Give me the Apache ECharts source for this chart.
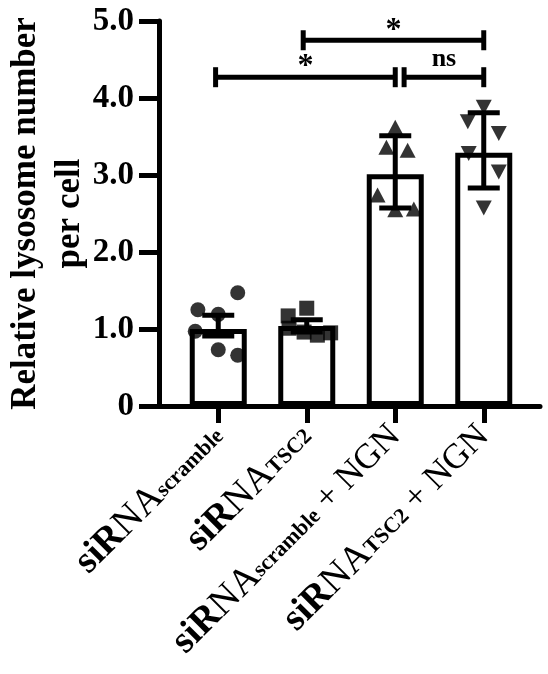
<!DOCTYPE html>
<html><head><meta charset="utf-8">
<script src="https://cdn.jsdelivr.net/npm/echarts@6/dist/echarts.min.js"></script>
<style>html,body{margin:0;padding:0;background:#fff}#c{width:548px;height:674px}</style>
</head><body><div id="c"></div>
<script>
// ---- data ----
const categories = ['siRNA scramble', 'siRNA TSC2', 'siRNA scramble + NGN', 'siRNA TSC2 + NGN'];
const labelSub = ['scramble', 'TSC2', 'scramble', 'TSC2'];
const labelSuffix = ['', '', ' + NGN', ' + NGN'];
const yTicks = ['0', '1.0', '2.0', '3.0', '4.0', '5.0'];
const barMeans = [1.00, 1.04, 3.01, 3.29];
const errLow = [0.91, 0.96, 2.57, 2.83];
const errHigh = [1.18, 1.12, 3.51, 3.81];
const pts1 = [1.47, 1.25, 1.19, 0.97, 0.73, 0.66];
const jit1 = [0.22, -0.23, 0.0, -0.26, 0.0, 0.22];
const pts2 = [1.27, 1.17, 1.01, 0.96, 0.92, 0.95];
const jit2 = [0.0, -0.21, -0.2, -0.03, 0.12, 0.27];
const pts3 = [3.62, 3.36, 3.32, 2.74, 2.55, 2.56];
const jit3 = [0.0, -0.1, 0.14, -0.2, 0.0, 0.21];
const pts4 = [3.88, 3.69, 3.54, 3.28, 3.04, 2.57];
const jit4 = [0.0, -0.18, 0.17, -0.17, 0.17, 0.0];
const bracketFrom = [-0.03, 2.1, 0.96];
const bracketTo = [2.0, 3.0, 3.0];
const bracketY = [4.27, 4.27, 4.75];
const bracketText = ['*', 'ns', '*'];

const FONT = '"Liberation Serif", "Times New Roman", serif';
function ptsData(pts, jit, idx) { return pts.map((v, i) => [idx + jit[i], v]); }

const chart = echarts.init(document.getElementById('c'), null, {renderer: 'canvas'});
const black = '#000';
chart.setOption({
  animation: false,
  backgroundColor: '#fff',
  grid: [
    {left: 159, right: 8, top: 21, bottom: 268, outerBoundsMode: 'none', containLabel: false},
    {left: 174, right: 20, top: 21, bottom: 268, outerBoundsMode: 'none', containLabel: false}
  ],
  xAxis: [
    {gridIndex: 0, type: 'value', min: 0, max: 1,
     axisLine: {show: true, lineStyle: {color: black, width: 5}},
     axisTick: {show: false}, axisLabel: {show: false}, splitLine: {show: false}},
    {gridIndex: 1, type: 'category', data: categories,
     axisLine: {show: false},
     axisTick: {show: true, alignWithLabel: true, length: 17, lineStyle: {color: black, width: 5}},
     axisLabel: {
       rotate: 45, margin: 25, color: black, interval: 0,
       formatter: (v, i) => '{b|siR}{n|NA}{s|' + labelSub[i] + '}' + (labelSuffix[i] ? '{p|' + labelSuffix[i] + '}' : ''),
       rich: {
         b: {fontFamily: FONT, fontWeight: 'bold', fontSize: 38, color: black},
         n: {fontFamily: FONT, fontWeight: 'normal', fontSize: 38, color: black},
         s: {fontFamily: FONT, fontWeight: 'bold', fontSize: 22, color: black, verticalAlign: 'bottom', padding: [0,0,5,0]},
         p: {fontFamily: FONT, fontWeight: 'normal', fontSize: 35, color: black}
       }
     }},
    {gridIndex: 1, type: 'value', min: -0.5, max: 3.5, show: false}
  ],
  yAxis: [
    {gridIndex: 0, type: 'value', min: 0, max: 5, interval: 1,
     axisLine: {show: true, lineStyle: {color: black, width: 5}},
     axisTick: {show: true, length: 20, lineStyle: {color: black, width: 5}},
     axisLabel: {margin: 25, color: black, fontFamily: FONT, fontWeight: 'bold', fontSize: 33,
                 formatter: v => yTicks[Math.round(v)]},
     splitLine: {show: false},
     name: 'Relative lysosome number\nper cell', nameLocation: 'middle', nameGap: 67,
     nameMoveOverlap: false,
     nameTextStyle: {fontFamily: FONT, fontWeight: 'bold', fontSize: 35, color: black, lineHeight: 44}},
    {gridIndex: 1, type: 'value', min: 0, max: 5, show: false}
  ],
  series: [
    {type: 'bar', xAxisIndex: 1, yAxisIndex: 1, data: barMeans, barWidth: 57,
     itemStyle: {color: '#fff', borderColor: black, borderWidth: 5}, z: 2},
    {type: 'scatter', xAxisIndex: 2, yAxisIndex: 1, symbol: 'circle', symbolSize: 15,
     data: ptsData(pts1, jit1, 0), itemStyle: {color: black}, z: 3},
    {type: 'scatter', xAxisIndex: 2, yAxisIndex: 1, symbol: 'rect', symbolSize: 15,
     data: ptsData(pts2, jit2, 1), itemStyle: {color: black}, z: 3},
    {type: 'scatter', xAxisIndex: 2, yAxisIndex: 1, symbol: 'triangle', symbolSize: [16, 15],
     data: ptsData(pts3, jit3, 2), itemStyle: {color: black}, z: 3},
    {type: 'scatter', xAxisIndex: 2, yAxisIndex: 1, symbol: 'triangle', symbolRotate: 180, symbolSize: [16, 15],
     data: ptsData(pts4, jit4, 3), itemStyle: {color: black}, z: 3},
    {type: 'custom', xAxisIndex: 2, yAxisIndex: 1, z: 4,
     data: barMeans.map((m, i) => [i, errLow[i], errHigh[i]]),
     renderItem: (params, api) => {
       const lo = api.coord([api.value(0), api.value(1)]);
       const hi = api.coord([api.value(0), api.value(2)]);
       const hw = 16;
       const st = {stroke: black, lineWidth: 5};
       return {type: 'group', children: [
         {type: 'line', shape: {x1: lo[0], y1: lo[1], x2: hi[0], y2: hi[1]}, style: st},
         {type: 'line', shape: {x1: lo[0] - hw, y1: lo[1], x2: lo[0] + hw, y2: lo[1]}, style: st},
         {type: 'line', shape: {x1: hi[0] - hw, y1: hi[1], x2: hi[0] + hw, y2: hi[1]}, style: st}
       ]};
     }},
    {type: 'custom', xAxisIndex: 2, yAxisIndex: 1, z: 4,
     data: bracketFrom.map((f, i) => [f, bracketTo[i], bracketY[i], i]),
     renderItem: (params, api) => {
       const a = api.coord([api.value(0), api.value(2)]);
       const b = api.coord([api.value(1), api.value(2)]);
       const st = {stroke: black, lineWidth: 5};
       const t = bracketText[api.value(3)];
       const star = t === '*';
       return {type: 'group', children: [
         {type: 'line', shape: {x1: a[0], y1: a[1], x2: b[0], y2: b[1]}, style: st},
         {type: 'line', shape: {x1: a[0], y1: a[1] - 10, x2: a[0], y2: a[1] + 10}, style: st},
         {type: 'line', shape: {x1: b[0], y1: b[1] - 10, x2: b[0], y2: b[1] + 10}, style: st},
         {type: 'text', x: (a[0] + b[0]) / 2, y: a[1] - (star ? -6 : 5),
          style: {text: t, fill: black, font: 'bold ' + (star ? 32 : 26) + 'px ' + FONT,
                  textAlign: 'center', textVerticalAlign: 'bottom'}}
       ]};
     }}
  ]
});
</script></body></html>
